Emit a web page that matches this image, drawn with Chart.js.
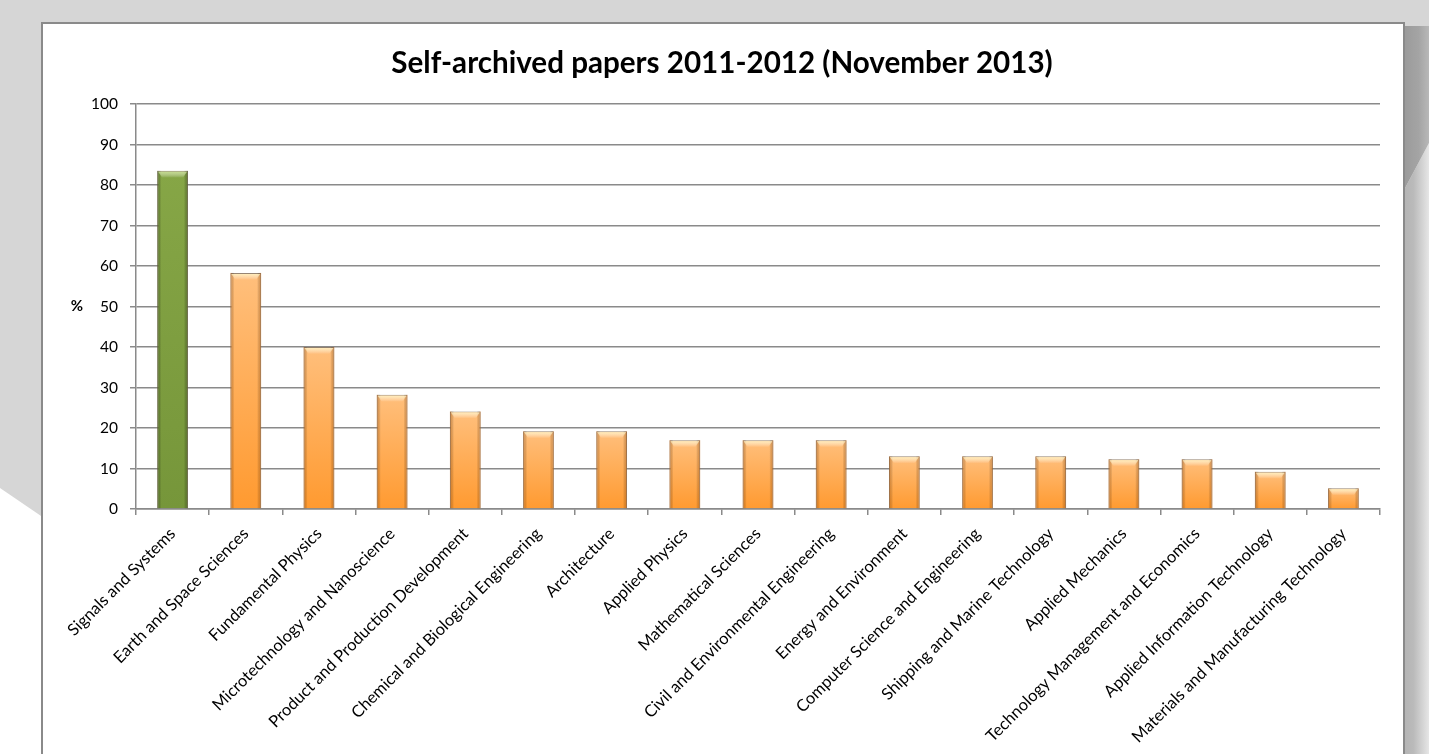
<!DOCTYPE html>
<html>
<head>
<meta charset="utf-8">
<script src="https://cdn.jsdelivr.net/npm/chart.js@4.4.1/dist/chart.umd.min.js"></script>
<style>
  html, body { margin: 0; padding: 0; width: 1429px; height: 754px; overflow: hidden; background: #d6d6d6; }
  #curlLeft { position: absolute; left: 0; top: 0; width: 44px; height: 754px; background: #fff;
    clip-path: polygon(0 488px, 44px 518px, 44px 754px, 0 754px); }
  #shadowTop { position: absolute; left: 1403px; top: 26px; width: 26px; height: 170px;
    background: linear-gradient(to right, #9a9a9a, #a4a4a4 60%, #b8b8b8);
    clip-path: polygon(0 0, 26px 0, 26px 117px, 0 166px); filter: blur(0.5px); }
  #shadowSide { position: absolute; left: 1403px; top: 140px; width: 26px; height: 614px;
    background: linear-gradient(to right, #b4b4b4, #bababa 40%, #e6e6e6);
    clip-path: polygon(0 52px, 26px 3px, 26px 614px, 0 614px); }
  #card { position: absolute; left: 41px; top: 22px; width: 1360px; height: 800px; background: #fff;
    border: 2px solid #8a8a8a; }
  #chart { position: absolute; left: 0; top: 0; }
</style>
</head>
<body>
<div id="curlLeft"></div>
<div id="shadowTop"></div>
<div id="shadowSide"></div>
<div id="card"></div>
<canvas id="chart" width="1429" height="754"></canvas>
<script>
// Dados do gráfico
const categories = [
  'Signals and Systems', 'Earth and Space Sciences', 'Fundamental Physics',
  'Microtechnology and Nanoscience', 'Product and Production Development',
  'Chemical and Biological Engineering', 'Architecture', 'Applied Physics',
  'Mathematical Sciences', 'Civil and Environmental Engineering', 'Energy and Environment',
  'Computer Science and Engineering', 'Shipping and Marine Technology', 'Applied Mechanics',
  'Technology Management and Economics', 'Applied Information Technology',
  'Materials and Manufacturing Technology'
];
const shares = [83.5, 58.3, 40, 28.2, 24.1, 19.2, 19.2, 17.0, 17.0, 17.0, 13.0, 13.0, 13.0, 12.3, 12.3, 9.2, 5.1];
const highlighted = ['Signals and Systems'];
const yTicks = [0, 10, 20, 30, 40, 50, 60, 70, 80, 90, 100];

const FONT = 'Lato, "Open Sans", sans-serif';

// Gradiente por barra (calculado pela escala do próprio gráfico)
function barFill(context) {
  const chart = context.chart;
  const { ctx, chartArea, scales } = chart;
  if (!chartArea) return '#ffa64d';
  const value = shares[context.dataIndex];
  const top = scales.y.getPixelForValue(value);
  const bottom = scales.y.getPixelForValue(0);
  const g = ctx.createLinearGradient(0, top, 0, bottom);
  if (highlighted.includes(categories[context.dataIndex])) {
    g.addColorStop(0, '#86a646');
    g.addColorStop(1, '#76963a');
  } else {
    g.addColorStop(0, '#ffbf7c');
    g.addColorStop(1, '#ff9a30');
  }
  return g;
}

// Efeito de bisel nas barras
const bevelPlugin = {
  id: 'bevel',
  afterDatasetsDraw(chart) {
    const ctx = chart.ctx;
    const meta = chart.getDatasetMeta(0);
    meta.data.forEach((bar, i) => {
      const green = highlighted.includes(categories[i]);
      const left = bar.x - bar.width / 2;
      const right = bar.x + bar.width / 2;
      const top = bar.y;
      const bottom = bar.base;
      ctx.save();
      // bordas laterais escuras
      const h = ctx.createLinearGradient(left, 0, right, 0);
      const edge = green ? 'rgba(60,80,20,0.5)' : 'rgba(200,100,10,0.45)';
      h.addColorStop(0, edge);
      h.addColorStop(0.13, 'rgba(0,0,0,0)');
      h.addColorStop(0.87, 'rgba(0,0,0,0)');
      h.addColorStop(1, edge);
      ctx.fillStyle = h;
      ctx.fillRect(left, top, right - left, bottom - top);
      // destaque no topo
      const t = ctx.createLinearGradient(0, top, 0, top + 7);
      t.addColorStop(0, green ? 'rgba(200,225,140,0.95)' : 'rgba(255,245,190,0.95)');
      t.addColorStop(1, 'rgba(255,255,255,0)');
      ctx.fillStyle = t;
      ctx.beginPath();
      ctx.moveTo(left + 1, top + 1);
      ctx.lineTo(right - 1, top + 1);
      ctx.lineTo(right - 5, top + 7);
      ctx.lineTo(left + 5, top + 7);
      ctx.closePath();
      ctx.fill();
      ctx.restore();
    });
  }
};

// Rótulo "%" horizontal do eixo Y
const yLabelPlugin = {
  id: 'yLabel',
  afterDraw(chart) {
    const ctx = chart.ctx;
    const y = chart.scales.y.getPixelForValue(50);
    ctx.save();
    ctx.font = 'bold 15px ' + FONT;
    ctx.fillStyle = '#000';
    ctx.textAlign = 'center';
    ctx.textBaseline = 'middle';
    ctx.fillText('%', 77, y);
    ctx.restore();
  }
};

new Chart(document.getElementById('chart'), {
  type: 'bar',
  data: {
    labels: categories,
    datasets: [{
      data: shares,
      backgroundColor: barFill,
      borderColor: 'rgba(140,120,100,0.9)',
      borderWidth: 1,
      barPercentage: 0.42,
      categoryPercentage: 1.0
    }]
  },
  options: {
    responsive: false,
    animation: false,
    devicePixelRatio: 1,
    layout: { padding: { left: 64, right: 49, top: 0, bottom: 0 } },
    plugins: {
      legend: { display: false },
      tooltip: { enabled: false },
      title: {
        display: true,
        text: 'Self-archived papers 2011-2012 (November 2013)',
        color: '#000',
        font: { family: FONT, size: 29.6, weight: 'bold', lineHeight: 1.2 },
        padding: { top: 46, bottom: 22.5 }
      }
    },
    scales: {
      x: {
        grid: { drawOnChartArea: false, drawTicks: true, tickLength: 6, color: '#8a8a8a', lineWidth: 1.5 },
        border: { color: '#8a8a8a', width: 1.5 },
        ticks: {
          autoSkip: false, minRotation: 45, maxRotation: 45,
          color: '#000', padding: 9,
          font: { family: FONT, size: 16.5 }
        },
        afterFit(scale) { scale.height = 245; }
      },
      y: {
        min: 0, max: 100,
        afterBuildTicks(scale) { scale.ticks = yTicks.map(v => ({ value: v })); },
        grid: { color: '#8a8a8a', lineWidth: 1.5, tickLength: 6 },
        border: { color: '#8a8a8a', width: 1.5 },
        ticks: { color: '#000', padding: 12, font: { family: FONT, size: 15.5 } },
        afterFit(scale) { scale.width = 72; }
      }
    }
  },
  plugins: [bevelPlugin, yLabelPlugin]
});
</script>
</body>
</html>
